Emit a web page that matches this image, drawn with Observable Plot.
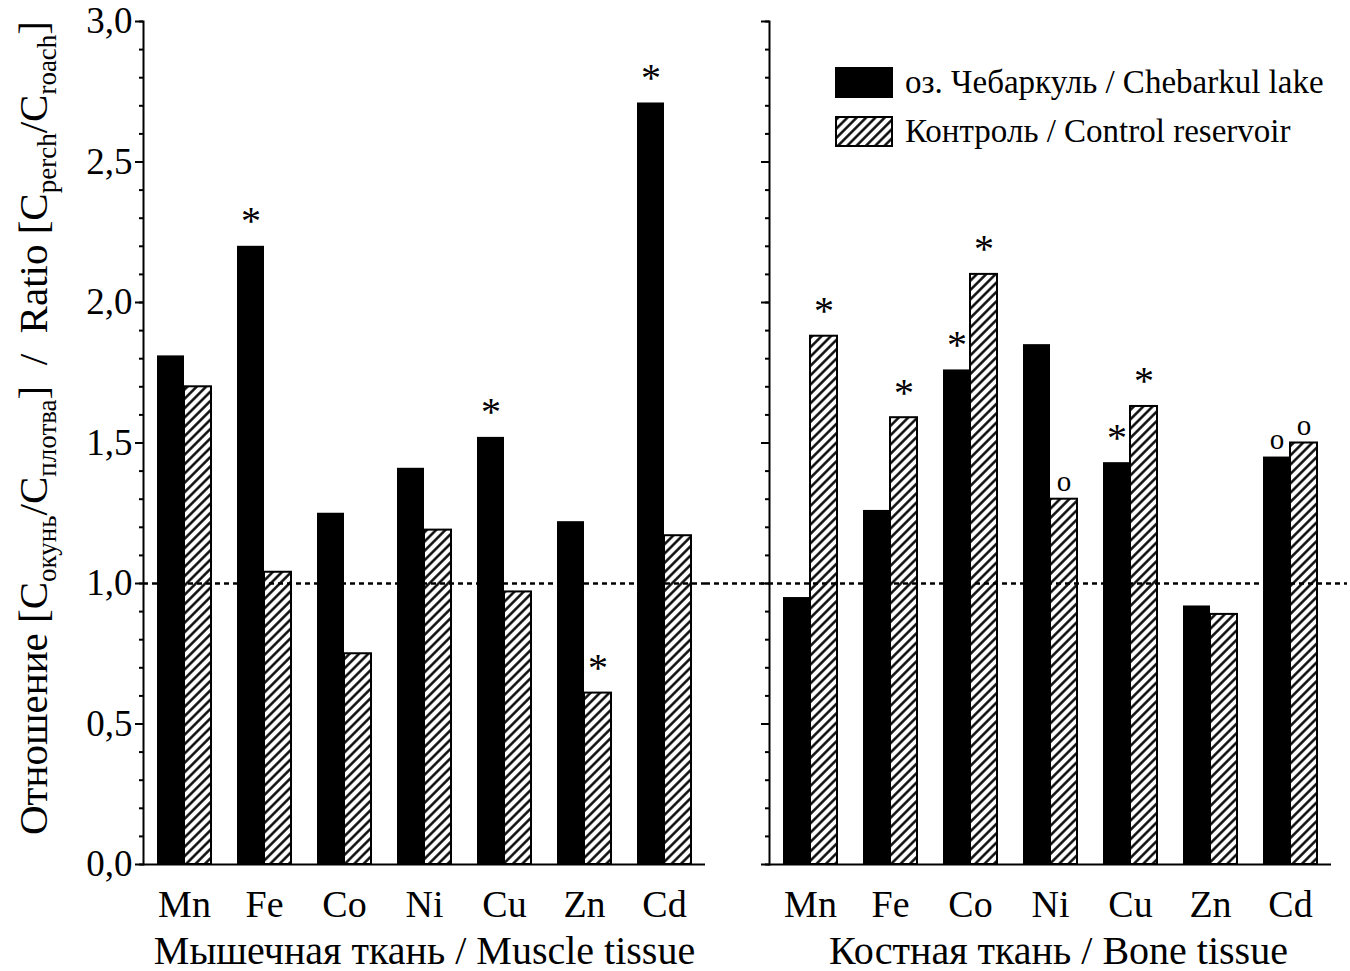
<!DOCTYPE html>
<html>
<head>
<meta charset="utf-8">
<script src="https://cdn.jsdelivr.net/npm/d3@7"></script>
<script src="https://cdn.jsdelivr.net/npm/@observablehq/plot@0.6"></script>
<style>
  html, body { margin: 0; padding: 0; background: #fff; }
  #chart { position: relative; width: 1350px; height: 971px; font-family: "Liberation Serif", "Times New Roman", serif; color: #000; overflow: hidden; }
  #chart > svg { position: absolute; top: 0; }
  .legend { position: absolute; left: 835px; top: 67px; font-family: "Liberation Serif", serif; font-size: 33px; color: #000; }
  .legend .row { display: flex; align-items: center; height: 31px; margin-bottom: 18px; white-space: nowrap; }
  .legend .row svg { display: block; margin-right: 12px; flex: none; }
</style>
</head>
<body>
<div id="chart"></div>
<script>
// ---- data ----
const elements = ["Mn", "Fe", "Co", "Ni", "Cu", "Zn", "Cd"];
const series = ["lake", "control"];
const seriesLabels = ["оз. Чебаркуль / Chebarkul lake", "Контроль / Control reservoir"];
const panelLabels = ["Мышечная ткань / Muscle tissue", "Костная ткань / Bone tissue"];

const muscleLake    = [1.81, 2.20, 1.25, 1.41, 1.52, 1.22, 2.71];
const muscleControl = [1.70, 1.04, 0.75, 1.19, 0.97, 0.61, 1.17];
const boneLake      = [0.95, 1.26, 1.76, 1.85, 1.43, 0.92, 1.45];
const boneControl   = [1.88, 1.59, 2.10, 1.30, 1.63, 0.89, 1.50];

const muscleLakeMarks    = ["", "*", "", "", "*", "", "*"];
const muscleControlMarks = ["", "", "", "", "", "*", ""];
const boneLakeMarks      = ["", "", "*", "", "*", "", "o"];
const boneControlMarks   = ["*", "*", "*", "o", "*", "", "o"];

const yMajorTicks = [0, 0.5, 1, 1.5, 2, 2.5, 3];
const yTickLabels = ["0,0", "0,5", "1,0", "1,5", "2,0", "2,5", "3,0"];
const yMinorTicks = [0, 0.1, 0.2, 0.3, 0.4, 0.5, 0.6, 0.7, 0.8, 0.9, 1.0, 1.1, 1.2, 1.3, 1.4, 1.5,
                     1.6, 1.7, 1.8, 1.9, 2.0, 2.1, 2.2, 2.3, 2.4, 2.5, 2.6, 2.7, 2.8, 2.9, 3.0];
const referenceLine = [1];

const yLabelParts = [
  ["Отношение [C", false], ["окунь", true], ["/C", false], ["плотва", true],
  ["]\u00A0\u00A0/\u00A0\u00A0Ratio [C", false], ["perch", true], ["/C", false], ["roach", true], ["]", false]
];

// ---- helpers ----
const FONT = "Liberation Serif, Times New Roman, serif";
function rows(values, marks, s) {
  return elements.map((e, i) => ({element: e, value: values[i], mark: marks[i], series: s}));
}
function hatchDefs(id) {
  return () => {
    const defs = d3.create("svg:defs");
    const p = defs.append("pattern").attr("id", id).attr("patternUnits", "userSpaceOnUse")
      .attr("width", 6.6).attr("height", 6.6).attr("patternTransform", "rotate(45)");
    p.append("rect").attr("width", 6.6).attr("height", 6.6).attr("fill", "white");
    p.append("line").attr("x1", 3.3).attr("x2", 3.3).attr("y1", -1).attr("y2", 7.6)
      .attr("stroke", "black").attr("stroke-width", 2.4);
    return defs.node();
  };
}

function panel(o) {
  const lakeData = rows(o.lake, o.lakeMarks, "lake");
  const controlData = rows(o.control, o.controlMarks, "control");
  const half = 27;
  const fmt = d => yTickLabels[yMajorTicks.indexOf(d)] ?? "";
  const plot = Plot.plot({
    width: o.width, height: 971,
    marginTop: 21, marginBottom: 107, marginLeft: o.marginLeft, marginRight: o.marginRight,
    style: {fontFamily: FONT, color: "black", background: "transparent", overflow: "visible"},
    x: {domain: elements, paddingInner: 0.325, paddingOuter: 0.175, align: 0.5},
    y: {domain: [0, 3]},
    marks: [
      hatchDefs(o.patternId),
      Plot.barY(lakeData, {x: "element", y: "value", fill: "black", insetRight: half}),
      Plot.barY(controlData, {x: "element", y: "value", fill: `url(#${o.patternId})`, stroke: "black", strokeWidth: 2, insetLeft: half}),
      Plot.ruleY(referenceLine, {stroke: "black", strokeWidth: 2.5, strokeDasharray: "5,4", insetLeft: o.ruleInsetLeft, insetRight: o.ruleInsetRight}),
      Plot.frame({anchor: "left", stroke: "black", strokeWidth: 2}),
      Plot.ruleY([0], {stroke: "black", strokeWidth: 2}),
      Plot.axisY({ticks: yMinorTicks, tickSize: 4, strokeWidth: 2, tickFormat: () => "", label: null}),
      Plot.axisY({ticks: yMajorTicks, tickSize: 8, strokeWidth: 2, tickPadding: 3, fontSize: 37,
                  tickFormat: o.showYLabels ? fmt : () => "", label: null}),
      Plot.axisX({tickSize: 0, tickPadding: 26, fontSize: 38, label: null}),
      Plot.text([o.label], {frameAnchor: "bottom", dx: o.labelDx, dy: 99, fontSize: 40, lineAnchor: "bottom"}),
      Plot.text(lakeData.filter(d => d.mark === "*"), {x: "element", y: "value", text: "mark", dx: -13.5, dy: -12, lineAnchor: "bottom", fontSize: 40}),
      Plot.text(controlData.filter(d => d.mark === "*"), {x: "element", y: "value", text: "mark", dx: 13.5, dy: -12, lineAnchor: "bottom", fontSize: 40}),
      Plot.text(lakeData.filter(d => d.mark === "o"), {x: "element", y: "value", text: "mark", dx: -13.5, dy: -8, lineAnchor: "bottom", fontSize: 29}),
      Plot.text(controlData.filter(d => d.mark === "o"), {x: "element", y: "value", text: "mark", dx: 13.5, dy: -8, lineAnchor: "bottom", fontSize: 29})
    ]
  });
  plot.style.left = o.left + "px";
  return plot;
}

const chart = document.getElementById("chart");

const leftPlot = panel({
  lake: muscleLake, control: muscleControl, lakeMarks: muscleLakeMarks, controlMarks: muscleControlMarks,
  label: panelLabels[0], labelDx: 0, left: 0, width: 705, marginLeft: 143, marginRight: 0,
  ruleInsetLeft: 0, ruleInsetRight: 0, showYLabels: true, patternId: "hatchL"
});
const rightPlot = panel({
  lake: boneLake, control: boneControl, lakeMarks: boneLakeMarks, controlMarks: boneControlMarks,
  label: panelLabels[1], labelDx: 8, left: 705, width: 645, marginLeft: 64, marginRight: 19,
  ruleInsetLeft: -64, ruleInsetRight: -16, showYLabels: false, patternId: "hatchR"
});
chart.appendChild(leftPlot);
chart.appendChild(rightPlot);

// y-axis title with subscripts
const yt = d3.select(leftPlot).append("text")
  .attr("transform", "translate(47,428) rotate(-90)")
  .attr("text-anchor", "middle")
  .attr("font-family", FONT).attr("font-size", 41).attr("fill", "black");
let shifted = false;
yLabelParts.forEach(([t, sub]) => {
  const ts = yt.append("tspan").text(t);
  if (sub && !shifted) { ts.attr("dy", 9).attr("font-size", 27); shifted = true; }
  else if (sub) { ts.attr("font-size", 27); }
  else if (shifted) { ts.attr("dy", -9); shifted = false; }
});

// legend
const legend = d3.select(chart).append("div").attr("class", "legend");
series.forEach((s, i) => {
  const row = legend.append("div").attr("class", "row");
  const sw = row.append("svg").attr("width", 58).attr("height", 31);
  if (s === "lake") {
    sw.append("rect").attr("width", 58).attr("height", 31).attr("fill", "black");
  } else {
    sw.append("defs").node().appendChild(hatchDefs("hatchLegend")());
    sw.append("rect").attr("x", 1).attr("y", 1).attr("width", 56).attr("height", 29)
      .attr("fill", "url(#hatchLegend)").attr("stroke", "black").attr("stroke-width", 2);
  }
  row.append("span").text(seriesLabels[i]);
});
</script>
</body>
</html>
